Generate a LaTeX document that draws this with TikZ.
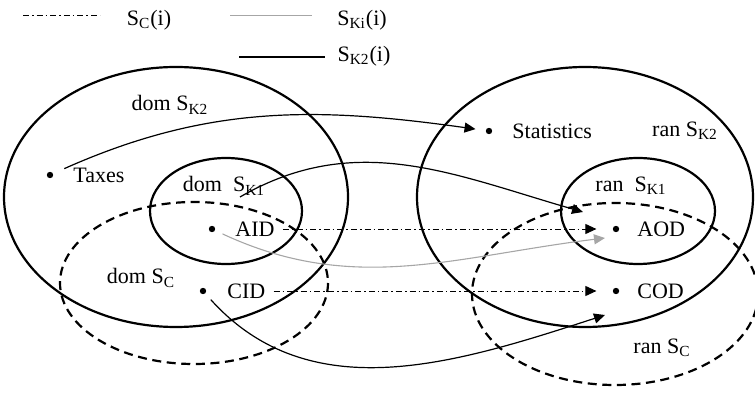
\documentclass[tikz,border=0pt]{standalone}
\usepackage{fontspec}
\setmainfont{Liberation Serif}
\usetikzlibrary{arrows.meta}
\newcommand{\subs}[1]{\textsubscript{#1}}
\begin{document}
\begin{tikzpicture}[x=0.5pt, y=-0.5pt, every node/.style={inner sep=1pt, font=\fontsize{11}{13}\selectfont},
    >={Triangle[length=5.5pt, width=5pt]},
    setline/.style={line width=1.1pt},
    cset/.style={setline, dash pattern=on 4.5pt off 2.8pt},
    dot/.style={circle, fill, inner sep=0pt, minimum size=3.2pt},
    scmap/.style={line width=0.45pt, dash pattern=on 3pt off 1.5pt on 0.8pt off 1.5pt},
    kimap/.style={gray!70, line width=0.55pt},
    ktwomap/.style={line width=0.6pt}]
    \useasboundingbox (0,0) rectangle (755,395);
    % legend
    \draw[scmap] (23,15) -- (100,15);
    \node (lsc) at (149,20) {S\subs{C}(i)};
    \draw[kimap, line width=0.35pt] (230,15) -- (312,15);
    \node (lski) at (362,20) {S\subs{Ki}(i)};
    \draw[ktwomap] (239,57) -- (325,57);
    \node (lsk2) at (364,56) {S\subs{K2}(i)};
    % sets
    \draw[setline] (176,197) ellipse [x radius=172, y radius=130];
    \draw[setline] (226,211) ellipse [x radius=76, y radius=53];
    \draw[cset] (194,283) ellipse [x radius=134, y radius=81];
    \draw[setline] (585,197) ellipse [x radius=168, y radius=130];
    \draw[setline] (638,211) ellipse [x radius=77, y radius=53];
    \draw[cset] (615,294) ellipse [x radius=143, y radius=91];
    \node (domk2) at (170,105) {dom S\subs{K2}};
    \node (domk1) at (224,186) {dom\ \ S\subs{K1}};
    \node (domc) at (141,278) {dom S\subs{C}};
    \node (rank2) at (685,131) {ran S\subs{K2}};
    \node (rank1) at (631,186) {ran\ \ S\subs{K1}};
    \node (ranc) at (662,348) {ran S\subs{C}};
    % elements
    \node[dot] (taxes) at (50,175) {};
    \node[anchor=west] (taxest) at (71,175) {Taxes};
    \node[dot] (stat) at (489,131) {};
    \node[anchor=west] (statt) at (510,131) {Statistics};
    \node[dot] (aid) at (212,229) {};
    \node[anchor=west] (aidt) at (233,229) {AID};
    \node[dot] (cid) at (203,291) {};
    \node[anchor=west] (cidt) at (225,291) {CID};
    \node[dot] (aod) at (616,229) {};
    \node[anchor=west] (aodt) at (635,229) {AOD};
    \node[dot] (cod) at (616,291) {};
    \node[anchor=west] (codt) at (635,291) {COD};
    \coordinate (kone) at (240,197);
    \coordinate (konein) at (583,212);
    \coordinate (aodin) at (605,238);
    \coordinate (codin) at (605,315);
    % mappings
    \draw[ktwomap, ->, shorten <=6pt, shorten >=5pt] (taxes) to[out=24, in=172] (stat);
    \draw[ktwomap, ->] (kone) to[out=30, in=164] (konein);
    \draw[scmap, ->, shorten <=3pt, shorten >=8pt] (aidt.east) -- (aod.west);
    \draw[scmap, ->, shorten <=3pt, shorten >=8pt] (cidt.east) -- (cod.west);
    \draw[kimap, ->, shorten <=4pt] (aid) to[out=-25, in=187] (aodin);
    \draw[ktwomap, ->, shorten <=4pt] (cid) to[out=-48, in=198] (codin);
\end{tikzpicture}
\end{document}
